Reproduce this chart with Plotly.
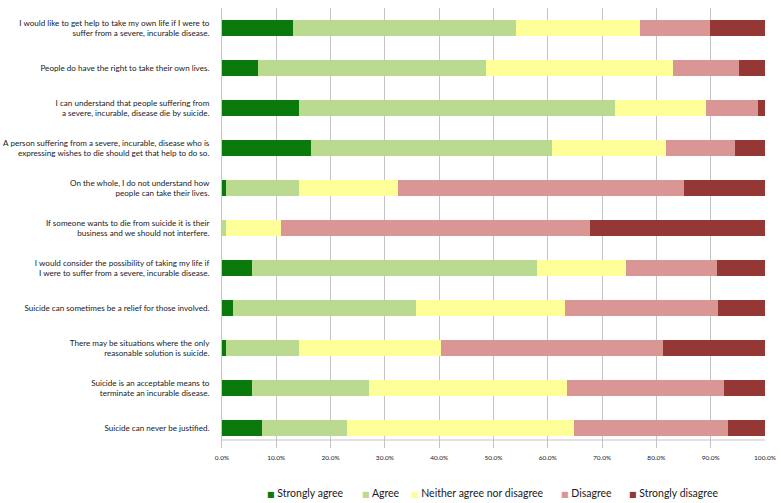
import plotly.graph_objects as go

statements = [
    "I would like to get help to take my own life if I were to<br>suffer from a severe, incurable disease.",
    "People do have the right to take their own lives.",
    "I can understand that people suffering from<br>a severe, incurable, disease die by suicide.",
    "A person suffering from a severe, incurable, disease who is<br>expressing wishes to die should get that help to do so.",
    "On the whole, I do not understand how<br>people can take their lives.",
    "If someone wants to die from suicide it is their<br>business and we should not interfere.",
    "I would consider the possibility of taking my life if<br>I were to suffer from a severe, incurable disease.",
    "Suicide can sometimes be a relief for those involved.",
    "There may be situations where the only<br>reasonable solution is suicide.",
    "Suicide is an acceptable means to<br>terminate an incurable disease.",
    "Suicide can never be justified.",
]

strongly_agree = [13.0, 6.7, 14.2, 16.3, 0.7, 0.0, 5.5, 2.0, 0.7, 5.5, 7.4]
agree = [41.1, 42.0, 58.1, 44.5, 13.4, 0.7, 52.6, 33.7, 13.4, 21.5, 15.6]
neither = [22.9, 34.4, 16.9, 20.9, 18.3, 10.1, 16.3, 27.4, 26.2, 36.6, 41.8]
disagree = [12.9, 12.1, 9.5, 12.8, 52.7, 57.0, 16.8, 28.2, 41.0, 28.9, 28.4]
strongly_disagree = [10.1, 4.8, 1.3, 5.5, 14.9, 32.2, 8.8, 8.7, 18.7, 7.5, 6.8]

series_names = ["Strongly agree", "Agree", "Neither agree nor disagree", "Disagree", "Strongly disagree"]
series_values = [strongly_agree, agree, neither, disagree, strongly_disagree]
series_colors = ["#0a7a0a", "#b9da8f", "#ffff99", "#d99694", "#953735"]

x_ticks = [0, 10, 20, 30, 40, 50, 60, 70, 80, 90, 100]
x_tick_labels = ["%.1f%%" % v for v in x_ticks]

# legend entry positions (paper x of each swatch), layout only
legend_x = [0.0795, 0.2545, 0.3447, 0.6210, 0.7462]

fig = go.Figure()
for name, vals, color in zip(series_names, series_values, series_colors):
    fig.add_trace(go.Bar(
        y=statements, x=vals, name=name, orientation="h",
        marker=dict(color=color, line=dict(width=0)),
        hoverinfo="x+name", showlegend=False,
    ))

fig.update_layout(
    barmode="stack",
    bargap=0.6,
    width=781, height=503,
    margin=dict(l=222, r=16, t=8, b=55),
    paper_bgcolor="white", plot_bgcolor="white",
    font=dict(family="Lato", color="#1a1a1a"),
    showlegend=False,
)
fig.update_xaxes(
    range=[0, 100], tickvals=x_ticks, ticktext=x_tick_labels,
    showgrid=True, gridcolor="#c4c4c4", gridwidth=1,
    zeroline=False, showline=False, ticks="", automargin=False,
    ticklabelstandoff=4,
    tickfont=dict(size=6.5, color="#1a1a1a"),
)
fig.update_yaxes(
    categoryorder="array", categoryarray=statements, autorange="reversed",
    showline=True, linecolor="#c4c4c4", linewidth=1,
    ticks="", ticklabelstandoff=10, automargin=False,
    tickfont=dict(size=8.1, color="#1a1a1a"),
)
# horizontal baseline just below the last bar
fig.add_shape(type="line", xref="x", yref="y", x0=0, x1=100,
              y0=len(statements) - 1 + 0.3, y1=len(statements) - 1 + 0.3,
              line=dict(color="#c4c4c4", width=1))

# legend as text entries with coloured square glyphs
for lx, name, color in zip(legend_x, series_names, series_colors):
    fig.add_annotation(
        xref="paper", yref="paper", x=lx, y=-0.1023,
        xanchor="left", yanchor="middle", showarrow=False,
        text='<span style="color:%s;font-family:DejaVu Sans;font-size:8px">■</span> %s' % (color, name),
        font=dict(size=10.5, color="#1a1a1a", family="Lato"),
    )

fig.write_html("out.html", config={"displayModeBar": False},
               post_script="document.body.style.margin='0';")
